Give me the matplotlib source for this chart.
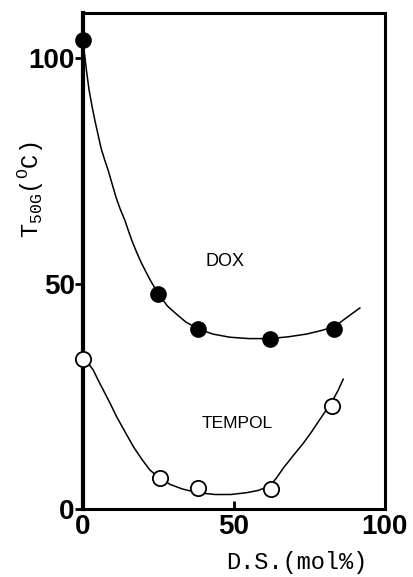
import matplotlib.pyplot as plt

# measured points
ds_dox = [0, 25, 38, 62, 83]
t_dox = [104, 47.7, 40, 37.8, 40]
ds_tempol = [0, 25.5, 38, 62.3, 82.6]
t_tempol = [33.2, 6.8, 4.6, 4.5, 22.9]

# hand drawn guide curves
dox_cx = [0.5, 1.2, 2, 3, 4, 5, 6, 7.2, 8.4, 9.7, 11, 12.4, 13.9, 15.2, 16.5, 18,
          19.4, 21, 22.5, 24, 25.3, 28, 30.5, 34, 38, 43, 48.7, 55, 62, 68, 74, 79,
          83.4, 87, 91.7]
dox_cy = [101, 97, 93, 89.3, 86, 83, 80, 77.4, 75, 72, 69, 66.4, 64, 61.4, 59, 56.6,
          54.5, 52.4, 50.5, 48.8, 47.4, 45, 43.5, 41.5, 40, 38.8, 38.1, 37.8, 37.8,
          38.2, 38.8, 39.6, 40.5, 42.3, 44.6]
tem_cx = [0.5, 2, 3.4, 5, 6.7, 9, 11.1, 14, 16.7, 19.5, 22.2, 25.5, 29, 33, 38,
          43.7, 49, 54.2, 58, 60, 62.3, 64, 66.5, 70.2, 73, 75.7, 79.6, 82.6, 84.5,
          86.2]
tem_cy = [33.2, 32.1, 30.8, 28.6, 26.4, 23.4, 20.5, 17.0, 13.8, 11.0, 8.6, 6.8, 5.4,
          4.4, 3.6, 3.2, 3.2, 3.6, 4.1, 4.6, 5.4, 6.8, 9.2, 12.3, 14.6, 17.1, 21.0,
          24.0, 26.3, 28.8]

xticks = [0, 50, 100]
yticks = [0, 50, 100]

fig = plt.figure(figsize=(4.13, 5.77), dpi=100)
ax = fig.add_axes([0.201, 0.118, 0.731, 0.859])

ax.plot(dox_cx, dox_cy, color='black', lw=1.1, zorder=2)
ax.plot(tem_cx, tem_cy, color='black', lw=1.1, zorder=2)
ax.plot(ds_dox, t_dox, 'o', color='black', ms=11, zorder=3, clip_on=False)
ax.plot(ds_tempol, t_tempol, 'o', mfc='white', mec='black', mew=1.3, ms=11,
        zorder=3, clip_on=False)

ax.text(47, 54.8, 'DOX', ha='center', va='center', fontsize=13,
        family='Liberation Sans')
ax.text(51, 19, 'TEMPOL', ha='center', va='center', fontsize=12.5,
        family='Liberation Sans')

ax.set_xlim(0, 100)
ax.set_ylim(0, 110)
ax.set_xticks(xticks)
ax.set_yticks(yticks)
ax.set_xticklabels([str(v) for v in xticks], fontsize=20, fontweight='bold',
                   family='Liberation Sans')
ax.set_yticklabels([str(v) for v in yticks], fontsize=20, fontweight='bold',
                   family='Liberation Sans')
ax.tick_params(axis='x', direction='in', length=6, width=2, pad=4)
ax.tick_params(axis='y', direction='out', length=6, width=2, pad=0)

for s in ax.spines.values():
    s.set_linewidth(2.2)
ax.spines['left'].set_linewidth(3)

fig.text(297 / 413, 1 - 562 / 577, 'D.S.(mol%)', ha='center', va='center',
         fontsize=17, family='Liberation Mono')
fig.text(30 / 413, 1 - 190 / 577, r'T$_{\mathregular{50G}}$($^{\mathregular{O}}$C)',
         rotation=90, ha='center', va='center', fontsize=17, family='Liberation Mono')

plt.savefig('out.png')
